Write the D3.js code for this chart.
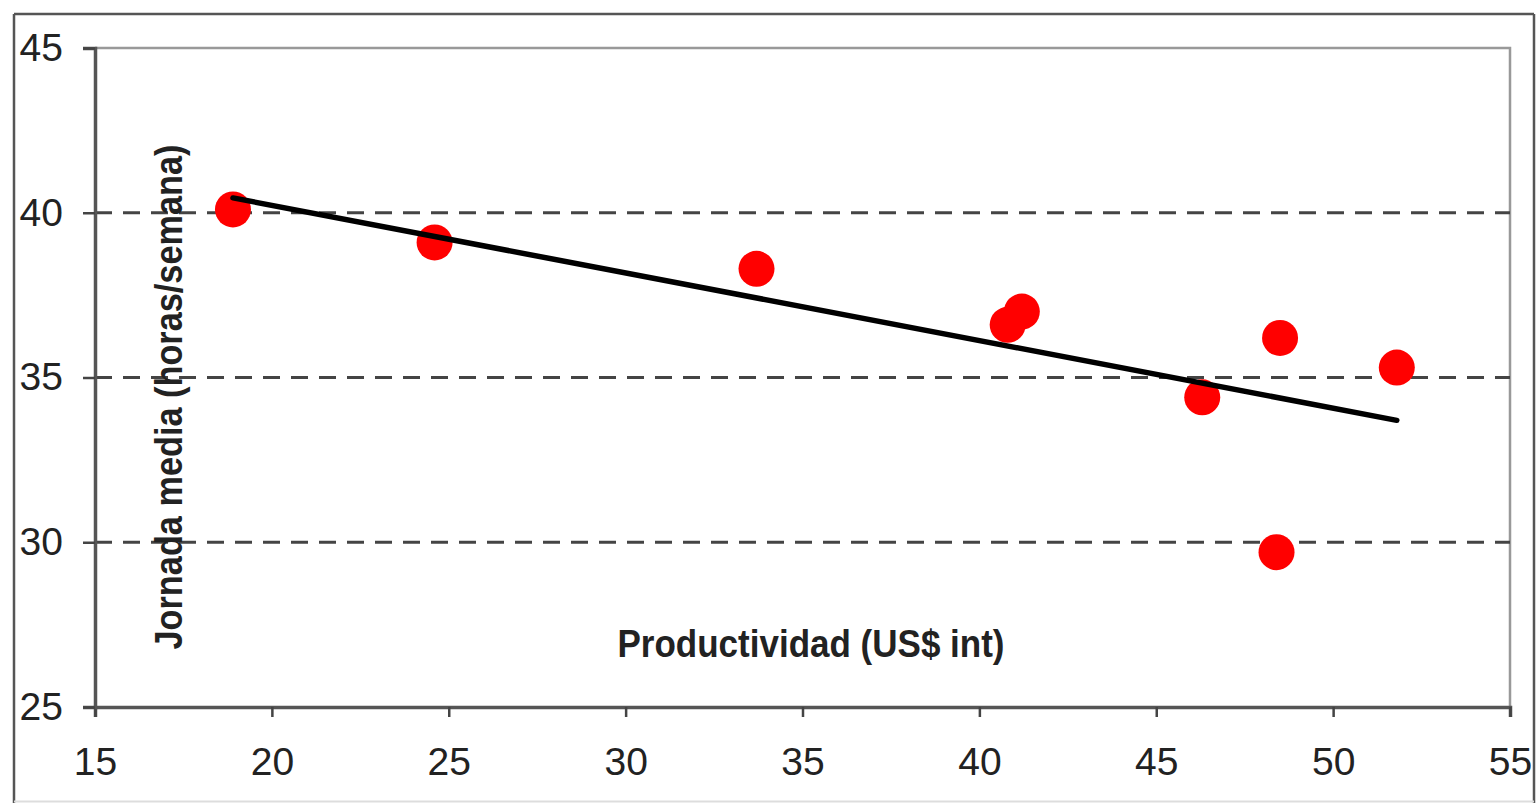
<!DOCTYPE html>
<html>
<head>
<meta charset="utf-8">
<script src="https://cdn.jsdelivr.net/npm/d3@7"></script>
<style>
	html, body { margin: 0; padding: 0; background: #fff; }
	svg { display: block; }
	.tick-label { font-family: "Liberation Sans", Arial, sans-serif; font-size: 39px; fill: #222; }
	.axis-title { font-family: "Liberation Sans", Arial, sans-serif; font-size: 39px; font-weight: bold; fill: #222; }
</style>
</head>
<body>
<div id="chart"></div>
<script>
	// Data
	var productividad = [18.9, 24.6, 33.7, 40.8, 41.2, 46.3, 48.5, 51.8, 48.4]; // US$ int
	var jornada = [40.1, 39.1, 38.3, 36.6, 37.0, 34.4, 36.2, 35.3, 29.7]; // horas/semana
	var trendX = [18.9, 51.8];
	var trendY = [40.45, 33.7];
	var xTicks = [15, 20, 25, 30, 35, 40, 45, 50, 55];
	var yTicks = [25, 30, 35, 40, 45];
	var gridValues = [30, 35, 40];

	var svg_width = 1537,
		svg_height = 803;

	var xScale = d3.scaleLinear().domain([15, 55]).range([95, 1510]),
		yScale = d3.scaleLinear().domain([25, 45]).range([707, 48]);

	var svg = d3.select("#chart").append("svg")
		.attr("width", svg_width)
		.attr("height", svg_height);

	// Outer frame
	svg.append("line").attr("x1", 14).attr("x2", 1534).attr("y1", 14).attr("y2", 14)
		.style("stroke", "#555").style("stroke-width", 2.5);
	svg.append("line").attr("x1", 14).attr("x2", 14).attr("y1", 14).attr("y2", 803)
		.style("stroke", "#555").style("stroke-width", 2.5);
	svg.append("line").attr("x1", 1534).attr("x2", 1534).attr("y1", 14).attr("y2", 803)
		.style("stroke", "#555").style("stroke-width", 2.5);
	svg.append("line").attr("x1", 14).attr("x2", 1534).attr("y1", 801.5).attr("y2", 801.5)
		.style("stroke", "#ddd").style("stroke-width", 2);

	// Plot area border (top, right)
	svg.append("path")
		.attr("d", "M" + xScale(15) + "," + yScale(45) + "H" + xScale(55) + "V" + yScale(25))
		.style("fill", "none").style("stroke", "#999").style("stroke-width", 2.5);

	// Dashed gridlines
	svg.selectAll(".grid")
		.data(gridValues)
		.enter()
		.append("line")
		.attr("class", "grid")
		.attr("x1", xScale(15))
		.attr("x2", xScale(55))
		.attr("y1", function(d) { return yScale(d); })
		.attr("y2", function(d) { return yScale(d); })
		.style("stroke", "#444")
		.style("stroke-width", 3)
		.style("stroke-dasharray", "17,11");

	// X-axis
	var xAxis = d3.axisBottom(xScale).tickValues(xTicks).tickSize(10).tickPadding(30).tickFormat(d3.format("d"));
	var gx = svg.append("g")
		.attr("transform", "translate(0," + yScale(25) + ")")
		.call(xAxis);
	gx.select(".domain").style("stroke", "#555").style("stroke-width", 3.5);
	gx.selectAll(".tick line").style("stroke", "#444").style("stroke-width", 2.5);
	gx.selectAll(".tick text").attr("class", "tick-label").attr("font-family", null).attr("font-size", null);

	// Y-axis
	var yAxis = d3.axisLeft(yScale).tickValues(yTicks).tickSize(12).tickPadding(20).tickFormat(d3.format("d"));
	var gy = svg.append("g")
		.attr("transform", "translate(" + xScale(15) + ",0)")
		.call(yAxis);
	gy.select(".domain").style("stroke", "#555").style("stroke-width", 3.5);
	gy.selectAll(".tick line").style("stroke", "#444").style("stroke-width", 2.5);
	gy.selectAll(".tick text").attr("class", "tick-label").attr("font-family", null).attr("font-size", null);

	// Axis titles
	svg.append("text")
		.attr("class", "axis-title")
		.attr("x", 811)
		.attr("y", 657)
		.attr("text-anchor", "middle")
		.attr("textLength", 387)
		.attr("lengthAdjust", "spacingAndGlyphs")
		.text("Productividad (US$ int)");

	svg.append("text")
		.attr("class", "axis-title")
		.attr("transform", "translate(182,397) rotate(-90)")
		.attr("text-anchor", "middle")
		.attr("textLength", 505)
		.attr("lengthAdjust", "spacingAndGlyphs")
		.text("Jornada media (horas/semana)");

	// Points
	var points = productividad.map(function(x, i) { return { x: x, y: jornada[i] }; });
	svg.selectAll(".plot-dot")
		.data(points)
		.enter()
		.append("circle")
		.attr("class", "plot-dot")
		.attr("r", 18)
		.attr("cx", function(d) { return xScale(d.x); })
		.attr("cy", function(d) { return yScale(d.y); })
		.style("fill", "#ff0000");

	// Trend line
	var trend = trendX.map(function(x, i) { return { x: x, y: trendY[i] }; });
	var line = d3.line()
		.x(function(d) { return xScale(d.x); })
		.y(function(d) { return yScale(d.y); });
	svg.append("path")
		.datum(trend)
		.attr("d", line)
		.style("fill", "none")
		.style("stroke", "#000")
		.style("stroke-width", 5.5)
		.style("stroke-linecap", "round");
</script>
</body>
</html>
